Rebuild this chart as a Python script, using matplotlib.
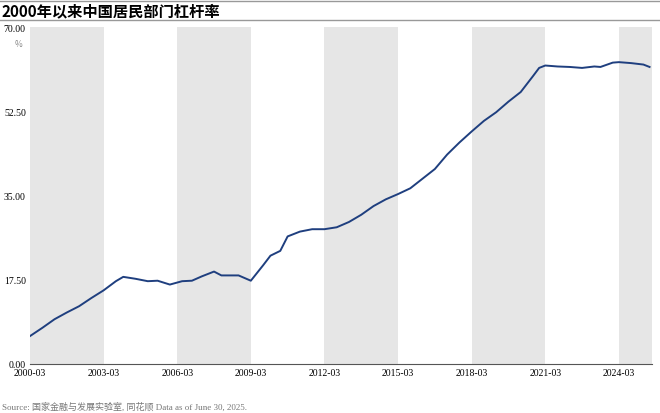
import matplotlib
matplotlib.use("Agg")
import matplotlib.pyplot as plt
import numpy as np

plt.rcParams['font.family'] = ['Noto Sans CJK SC', 'DejaVu Sans']

years = [2000.0, 2000.5, 2001.0, 2001.5, 2002.0, 2002.5, 2003.0, 2003.5, 2003.8, 2004.3, 2004.8,
         2005.2, 2005.7, 2006.2, 2006.6, 2007.0, 2007.5, 2007.8, 2008.5, 2009.0, 2009.5, 2009.8,
         2010.2, 2010.5, 2011.0, 2011.5, 2012.0, 2012.5, 2013.0, 2013.5, 2014.0, 2014.5, 2015.0,
         2015.5, 2016.0, 2016.5, 2017.0, 2017.5, 2018.0, 2018.5, 2019.0, 2019.5, 2020.0, 2020.5,
         2020.75, 2021.0, 2021.5, 2022.0, 2022.5, 2023.0, 2023.25, 2023.75, 2024.0, 2024.5,
         2025.0, 2025.25]
values = [5.8, 7.5, 9.3, 10.7, 12.0, 13.7, 15.3, 17.2, 18.1, 17.7, 17.2,
          17.3, 16.5, 17.2, 17.3, 18.2, 19.2, 18.4, 18.4, 17.3, 20.5, 22.5,
          23.5, 26.5, 27.5, 28.0, 28.0, 28.4, 29.5, 31.0, 32.8, 34.2, 35.3,
          36.5, 38.5, 40.5, 43.5, 46.0, 48.3, 50.5, 52.3, 54.5, 56.5, 59.8,
          61.5, 62.0, 61.8, 61.7, 61.5, 61.8, 61.7, 62.6, 62.7, 62.5, 62.2, 61.7]
tick_years = [2000, 2003, 2006, 2009, 2012, 2015, 2018, 2021, 2024]
tick_labels = ['2000-03', '2003-03', '2006-03', '2009-03', '2012-03', '2015-03', '2018-03', '2021-03', '2024-03']
yticks = [0, 17.5, 35, 52.5, 70]

fig = plt.figure(figsize=(6.6, 4.14), dpi=100)
ax = fig.add_axes([30/660, 1-365/414, 622/660, (365-28)/414])
for s in [2000, 2006, 2012, 2018, 2024]:
    ax.axvspan(s, s + 3, color='#e6e6e6', lw=0, zorder=0)
ax.plot(years, values, color='#1f3f7f', lw=1.4, zorder=3)
ax.set_xlim(2000, 2025.35)
ax.set_ylim(0, 70)
ax.set_xticks(tick_years)
ax.set_xticklabels(tick_labels, family='Liberation Serif', fontsize=7)
ax.set_yticks(yticks)
ax.set_yticklabels(['%.2f' % v for v in yticks], family='Liberation Serif', fontsize=7)
ax.tick_params(length=0, pad=3)
for sp in ['top', 'right', 'left']:
    ax.spines[sp].set_visible(False)
ax.spines['bottom'].set_color('#555555')
ax.text(-0.012, 0.965, '%', transform=ax.transAxes, ha='right', va='top', fontsize=6, color='#888888')

fig.add_artist(plt.Line2D([0, 1], [1-2/414, 1-2/414], color='#999999', lw=1))
fig.add_artist(plt.Line2D([0, 1], [1-21/414, 1-21/414], color='#999999', lw=1))
fig.text(0.003, 1-11/414, '2000年以来中国居民部门杠杆率', fontsize=11, fontweight='bold', va='center')
fig.text(0.003, 1-407/414, 'Source: 国家金融与发展实验室, 同花顺 Data as of June 30, 2025.',
         fontsize=6.5, color='#777777', va='center', family=['Liberation Serif', 'Noto Sans CJK SC'])
fig.savefig('out.png', dpi=100, facecolor='white')
